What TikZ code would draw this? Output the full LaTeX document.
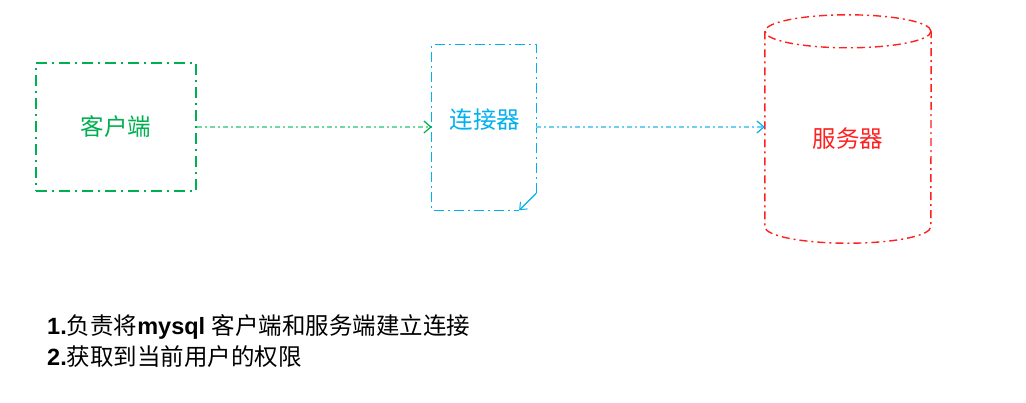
\documentclass[tikz,border=0pt]{standalone}
\usepackage{fontspec}
\setmainfont{Liberation Sans}
\newfontfamily\cjk{Noto Sans CJK SC}
\usetikzlibrary{arrows.meta}
\definecolor{cgreen}{HTML}{00B050}
\definecolor{lgreen}{HTML}{70D8A0}
\definecolor{ccyan}{HTML}{00B0F0}
\definecolor{lcyan}{HTML}{70D0F4}
\definecolor{cred}{HTML}{FF2020}
\tikzset{
  clientbox/.style={draw=cgreen, line width=2pt, dash pattern=on 11pt off 5pt on 2pt off 5pt,
    minimum width=160pt, minimum height=128pt, inner sep=0pt, text=cgreen},
  docline/.style={draw=ccyan, line width=1.2pt, dash pattern=on 10pt off 4pt on 2pt off 4pt},
  cylline/.style={draw=cred, line width=1.4pt, dash pattern=on 8pt off 4pt on 2pt off 4pt},
  flowA/.style={draw=lgreen, line width=1.6pt, dash pattern=on 5pt off 3pt on 2pt off 3pt,
    -{Straight Barb[length=7pt,width=12pt,line width=1.2pt,color=cgreen]}},
  flowB/.style={draw=lcyan, line width=1.6pt, dash pattern=on 5pt off 3pt on 2pt off 3pt,
    -{Straight Barb[length=7pt,width=12pt,line width=1.2pt,color=ccyan]}},
  big/.style={font=\cjk\fontsize{23.5}{28}\selectfont},
  note/.style={anchor=west, inner sep=0pt, font=\fontsize{23.5}{28}\selectfont},
}
\begin{document}
\begin{tikzpicture}[x=1pt,y=-1pt]
\useasboundingbox[fill=white] (0,0) rectangle (1026,402);
% client
\node[clientbox, big] (client) at (116,127) {客户端};
% connector (document shape)
\node[minimum width=104pt, minimum height=165pt, inner sep=0pt] (conn) at (484,127.5) {};
\node[big, text=ccyan, inner sep=0pt] (connlabel) at (485,120) {连接器};
\draw[docline] ([yshift=17pt]conn.south east) -- (conn.north east) -- (conn.north west)
  -- (conn.south west) -- ([xshift=-17pt]conn.south east);
\draw[docline, solid, -{Straight Barb[length=6pt,width=10pt,line width=1pt]}]
  ([yshift=17pt]conn.south east) -- ([xshift=-17pt]conn.south east);
% server (cylinder)
\node[minimum width=166pt, minimum height=228pt, inner sep=0pt] (server) at (848,129) {};
\node[big, text=cred, inner sep=0pt] (serverlabel) at (848,139) {服务器};
\draw[cylline] ([yshift=-16.5pt]server.north) ellipse [x radius=83pt, y radius=16.5pt];
\draw[cylline] ([yshift=-16.5pt]server.north west) -- ([yshift=16.5pt]server.south west)
  arc[start angle=180, end angle=360, x radius=83pt, y radius=16.5pt]
  -- ([yshift=-16.5pt]server.north east);
% flows
\draw[flowA] (client.east) -- (client.east -| conn.west);
\draw[flowB] (conn.east |- client.east) -- (client.east -| server.west);
% notes
\node[note] (n1) at (47,327) {\bfseries 1.{\mdseries\cjk 负责将}mysql {\mdseries\cjk 客户端和服务端建立连接}};
\node[note] (n2) at (47,357) {\bfseries 2.{\mdseries\cjk 获取到当前用户的权限}};
\end{tikzpicture}
\end{document}
